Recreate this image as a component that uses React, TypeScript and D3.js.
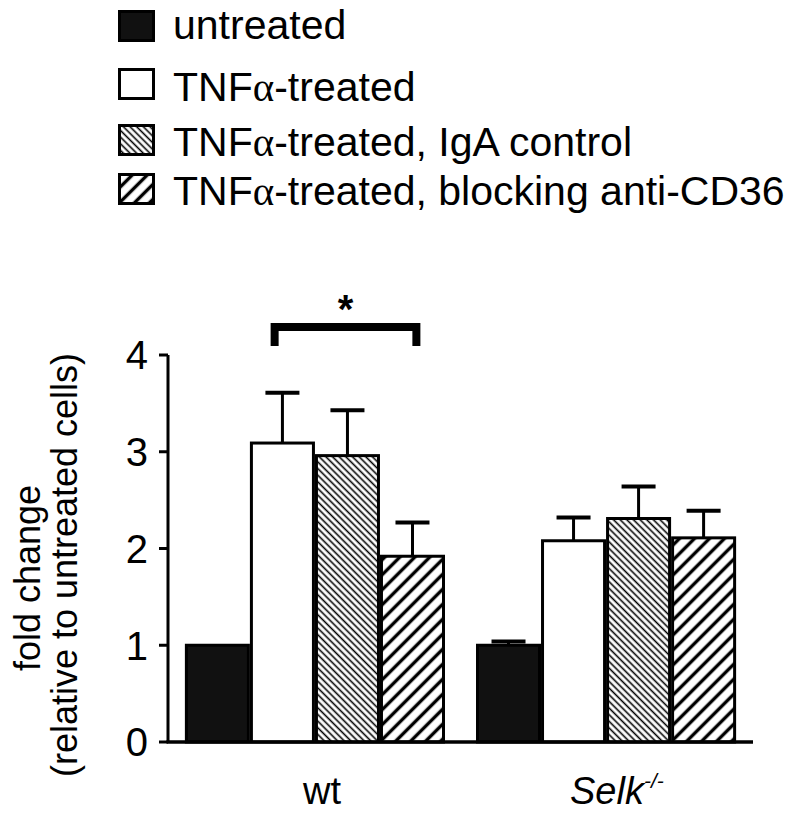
import React from 'react';
import * as d3 from 'd3';

const groups = ['wt', 'Selk'];
const seriesNames = [
  'untreated',
  'TNFα-treated',
  'TNFα-treated, IgA control',
  'TNFα-treated, blocking anti-CD36',
];
const wtMeans = [1.0, 3.09, 2.96, 1.92];
const wtErrors = [0, 0.52, 0.47, 0.35];
const selkMeans = [1.0, 2.08, 2.31, 2.11];
const selkErrors = [0.04, 0.24, 0.33, 0.28];
const yTicks = [0, 1, 2, 3, 4];
const fills = ['#111111', '#ffffff', 'url(#hatchFine)', 'url(#hatchWide)'];

const FONT = '"Liberation Sans", Arial, Helvetica, sans-serif';

export default function App() {
  const y = d3.scaleLinear().domain([0, 4]).range([742, 355]);
  const xg = d3.scaleBand().domain(groups).range([168, 753]).paddingInner(0.1065).paddingOuter(0.058);
  const xs = d3.scaleBand().domain(d3.range(4).map(String)).range([0, xg.bandwidth()]).padding(0);

  const data = groups.map((g, gi) => ({
    g,
    means: gi === 0 ? wtMeans : selkMeans,
    errs: gi === 0 ? wtErrors : selkErrors,
  }));

  const bw = xs.bandwidth();
  const capW = 34;

  // significance bracket between TNFa-treated and anti-CD36 in wt
  const bx0 = (xg('wt') as number) + (xs('1') as number) + bw * 0.38;
  const bx1 = (xg('wt') as number) + (xs('3') as number) + bw * 0.56;
  const by = 327;

  const legendRows = [
    { top: 10, base: 39 },
    { top: 68, base: 101 },
    { top: 124, base: 156 },
    { top: 173, base: 205 },
  ];

  const renderLabel = (s: string) => {
    const parts = s.split('α');
    if (parts.length === 1) return s;
    return (
      <>
        {parts[0]}
        <tspan fontFamily='"Liberation Serif", "Times New Roman", serif'>α</tspan>
        {parts[1]}
      </>
    );
  };

  return (
    <svg width={792} height={814} style={{ position: 'absolute', left: 0, top: 0, background: '#fff' }}>
      <defs>
        <pattern id="hatchFine" patternUnits="userSpaceOnUse" width={4.7} height={4.7} patternTransform="rotate(-45)">
          <rect width={4.7} height={4.7} fill="#fff" />
          <line x1={2.35} y1={-1} x2={2.35} y2={5.7} stroke="#000" strokeWidth={1.6} />
        </pattern>
        <pattern id="hatchWide" patternUnits="userSpaceOnUse" width={10.6} height={10.6} patternTransform="rotate(45)">
          <rect width={10.6} height={10.6} fill="#fff" />
          <line x1={5.3} y1={-1} x2={5.3} y2={11.6} stroke="#000" strokeWidth={3.4} />
        </pattern>
      </defs>

      {/* Legend */}
      {seriesNames.map((name, i) => (
        <g key={name}>
          <rect
            x={119.5}
            y={legendRows[i].top + 1.5}
            width={34}
            height={29}
            fill={fills[i]}
            stroke="#000"
            strokeWidth={3}
          />
          <text x={173} y={legendRows[i].base} fontFamily={FONT} fontSize={41} fill="#000">
            {renderLabel(name)}
          </text>
        </g>
      ))}

      {/* Bars */}
      {data.map((d) => (
        <g key={d.g} transform={`translate(${xg(d.g)},0)`}>
          {d.means.map((m, i) => {
            const x0 = xs(String(i)) as number;
            const cx = x0 + bw / 2;
            const top = y(m);
            const errTop = y(m + d.errs[i]);
            return (
              <g key={i}>
                {d.errs[i] > 0 && (
                  <g stroke="#000">
                    <line x1={cx} x2={cx} y1={top} y2={errTop} strokeWidth={3} />
                    <line x1={cx - capW / 2} x2={cx + capW / 2} y1={errTop} y2={errTop} strokeWidth={4} />
                  </g>
                )}
                <rect
                  x={x0 + 1.5}
                  y={top}
                  width={bw - 3}
                  height={y(0) - top}
                  fill={fills[i]}
                  stroke="#000"
                  strokeWidth={3}
                />
              </g>
            );
          })}
        </g>
      ))}

      {/* Axes */}
      <line x1={168} x2={168} y1={y(4)} y2={y(0)} stroke="#000" strokeWidth={3} />
      <line x1={166.5} x2={753} y1={y(0)} y2={y(0)} stroke="#000" strokeWidth={3.5} />
      {yTicks.map((t) => (
        <g key={t}>
          <line x1={159} x2={168} y1={y(t)} y2={y(t)} stroke="#000" strokeWidth={3} />
          <text x={148} y={y(t)} dy="0.36em" textAnchor="end" fontFamily={FONT} fontSize={40} fill="#000">
            {t}
          </text>
        </g>
      ))}

      {/* Y axis title */}
      <text transform="translate(40,578) rotate(-90)" textAnchor="middle" fontFamily={FONT} fontSize={36} fill="#000">
        fold change
      </text>
      <text transform="translate(77,565) rotate(-90)" textAnchor="middle" fontFamily={FONT} fontSize={36} fill="#000">
        (relative to untreated cells)
      </text>

      {/* Category labels */}
      <text x={(xg('wt') as number) + xg.bandwidth() / 2 + 7} y={804} textAnchor="middle" fontFamily={FONT} fontSize={38} fill="#000">
        wt
      </text>
      <text x={570} y={804} fontFamily={FONT} fontSize={38} fontStyle="italic" fill="#000">
        Selk
        <tspan fontSize={21} dy={-16}>-/-</tspan>
      </text>

      {/* Significance bracket */}
      <path
        d={`M${bx0},346 L${bx0},${by} L${bx1},${by} L${bx1},346`}
        fill="none"
        stroke="#000"
        strokeWidth={8}
        strokeLinejoin="miter"
      />
      <text x={(bx0 + bx1) / 2} y={323} textAnchor="middle" fontFamily={FONT} fontSize={40} fontWeight="bold" fill="#000">
        *
      </text>
    </svg>
  );
}
